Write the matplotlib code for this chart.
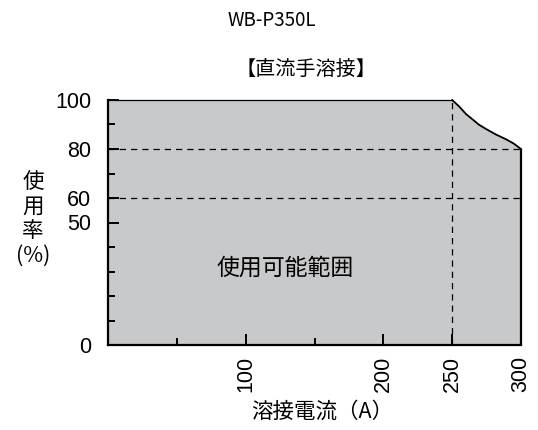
import matplotlib.pyplot as plt

plt.rcParams['font.family'] = ['Liberation Sans', 'Noto Sans CJK JP', 'DejaVu Sans']

# duty cycle boundary
current = [0, 250, 255, 260, 265, 269.5, 274.5, 281.5, 289, 294.5, 300]
duty = [100, 100, 97.4, 94.3, 92, 89.9, 88.2, 86, 84, 82.3, 80]

y_ticks = [0, 50, 60, 80, 100]
y_minor = [10, 20, 30, 40, 70, 90]
x_ticks = [100, 200, 250, 300]
x_minor = [50, 150]
ref_lines_y = [60, 80]
ref_line_x = 250

fig = plt.figure(figsize=(5.38, 4.3), dpi=100)
ax = fig.add_axes([108 / 538, 1 - 345 / 430, 413 / 538, 245 / 430])

ax.fill_between(current, duty, 0, color='#c8c9cb', linewidth=0)
ax.plot(current[:2], duty[:2], color='black', lw=0.9, clip_on=False)
ax.plot(current[1:], duty[1:], color='black', lw=1.3, clip_on=False,
        solid_joinstyle='round')
ax.vlines(current[-1], 0, duty[-1], color='black', lw=1.6, clip_on=False)

for yv in ref_lines_y:
    ax.plot([0, 300], [yv, yv], color='black', lw=0.9, ls=(0, (5, 4)))
ax.plot([ref_line_x, ref_line_x], [0, 100], color='black', lw=0.9, ls=(0, (5, 4)))

ax.set_xlim(0, 300)
ax.set_ylim(0, 100)
for s in ['top', 'right']:
    ax.spines[s].set_visible(False)
for s in ['left', 'bottom']:
    ax.spines[s].set_linewidth(1.6)

ax.set_yticks(y_ticks)
ax.set_yticks(y_minor, minor=True)
ax.set_xticks(x_ticks)
ax.set_xticks(x_minor, minor=True)
ax.set_xticklabels([str(v) for v in x_ticks], rotation=90)
ax.tick_params(axis='both', which='major', direction='in', length=8, width=1.4,
               labelsize=15.5)
ax.tick_params(axis='x', which='major', pad=8)
ax.tick_params(axis='y', which='major', pad=12)
ax.tick_params(axis='both', which='minor', direction='in', length=5, width=1.4)

cjk = ['Noto Sans CJK JP', 'DejaVu Sans']
ax.text(129, 31.4, '使用可能範囲', fontsize=16.5, family=cjk, ha='center', va='center')

fig.text(272 / 538, 1 - 20 / 430, 'WB-P350L', fontsize=13.5, family=cjk, ha='center', va='center')
fig.text(306 / 538, 1 - 70 / 430, '【直流手溶接】', fontsize=14.5, family=cjk, ha='center', va='center')
fig.text(322 / 538, 1 - 412 / 430, '溶接電流（A）', fontsize=15.5, family=cjk, ha='center', va='center')

for ch, yp in zip(['使', '用', '率', '(%)'], [182, 207, 231, 256]):
    fig.text(33 / 538, 1 - yp / 430, ch, fontsize=15.5, family=cjk, ha='center', va='center')

plt.savefig('out.png', dpi=100)
